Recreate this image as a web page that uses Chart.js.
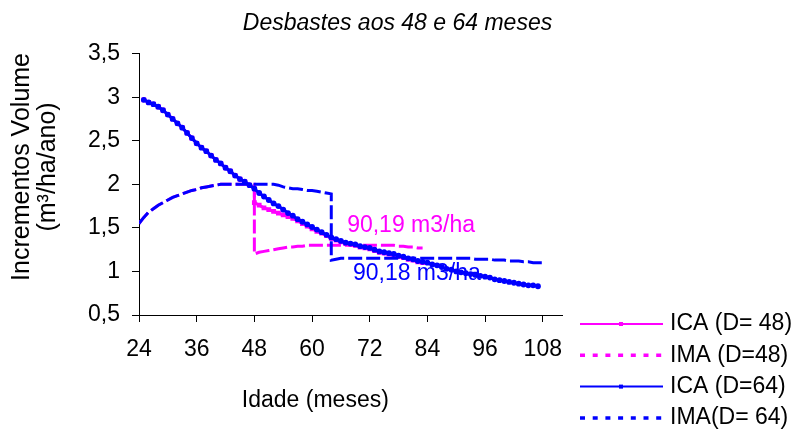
<!DOCTYPE html>
<html lang="pt">
<head>
<meta charset="utf-8">
<title>Desbastes aos 48 e 64 meses</title>
<script src="https://cdn.jsdelivr.net/npm/chart.js@4.4.1/dist/chart.umd.min.js"></script>
<style>
  html, body { margin: 0; padding: 0; background: #fff; }
  #wrap { width: 795px; height: 434px; position: relative; }
</style>
</head>
<body>
<div id="wrap"><canvas id="grafico"></canvas></div>
<script>
// Idades (meses) de cada série; o mês repetido marca o desbaste
const mesesIca48 = [25,26,27,28,29,30,31,32,33,34,35,36,37,38,39,40,41,42,43,44,45,46,47,48,
  48,49,50,51,52,53,54,55,56,57,58,59,60,61,62,63,64,65,66,67,68,69,70,71,72,73,74,75,76,77,78,79,80,81,82,83];
const ica48 = [2.97,2.94,2.92,2.89,2.85,2.80,2.75,2.70,2.65,2.59,2.53,2.47,2.42,2.38,2.33,2.28,2.24,2.19,2.15,2.10,2.06,2.03,1.99,1.95,
  1.79,1.76,1.73,1.71,1.69,1.67,1.65,1.63,1.61,1.58,1.55,1.52,1.49,1.46,1.44,1.41,1.38,1.36,1.34,1.32,1.31,1.30,1.28,1.27,1.26,1.24,1.22,1.21,1.20,1.19,1.17,1.16,1.14,1.13,1.11,1.10];

const mesesIma48 = [24,25,26,27,28,29,30,31,32,33,34,35,36,37,38,39,40,41,42,43,44,45,46,47,48,
  48,49,50,51,52,53,54,55,56,57,58,59,60,61,62,63,64,65,66,67,68,69,70,71,72,73,74,75,76,77,78,79,80,81,82,83];
const ima48 = [1.55,1.62,1.68,1.72,1.76,1.79,1.82,1.85,1.87,1.89,1.91,1.93,1.94,1.96,1.97,1.98,1.99,2.00,2.00,2.00,2.00,2.00,2.00,2.00,2.00,
  1.20,1.22,1.23,1.24,1.25,1.26,1.27,1.28,1.28,1.29,1.29,1.30,1.30,1.30,1.30,1.30,1.30,1.30,1.30,1.30,1.30,1.30,1.30,1.30,1.30,1.30,1.30,1.30,1.30,1.30,1.29,1.29,1.28,1.28,1.27,1.27];

const mesesIca64 = [25,26,27,28,29,30,31,32,33,34,35,36,37,38,39,40,41,42,43,44,45,46,47,48,49,50,51,52,53,54,
  55,56,57,58,59,60,61,62,63,64,65,66,67,68,69,70,71,72,73,74,75,76,77,78,79,80,81,82,83,84,
  85,86,87,88,89,90,91,92,93,94,95,96,97,98,99,100,101,102,103,104,105,106,107];
const ica64 = [2.97,2.94,2.92,2.89,2.85,2.80,2.75,2.70,2.65,2.59,2.53,2.47,2.42,2.38,2.33,2.28,2.24,2.19,2.15,2.10,
  2.06,2.03,1.99,1.95,1.90,1.86,1.82,1.78,1.75,1.71,1.67,1.64,1.60,1.57,1.54,1.51,1.48,1.45,1.42,1.39,
  1.37,1.35,1.33,1.32,1.31,1.29,1.28,1.27,1.25,1.23,1.22,1.21,1.20,1.18,1.17,1.15,1.14,1.12,1.11,1.10,
  1.08,1.07,1.05,1.03,1.02,1.00,0.99,0.98,0.97,0.96,0.95,0.94,0.93,0.91,0.90,0.89,0.88,0.87,0.86,0.85,
  0.84,0.84,0.83];

const mesesIma64 = [24,25,26,27,28,29,30,31,32,33,34,35,36,37,38,39,40,41,42,43,44,45,46,47,48,49,50,51,52,53,
  54,55,56,57,58,59,60,61,62,63,64,
  64,65,66,67,68,69,70,71,72,73,74,75,76,77,78,79,80,81,82,83,84,85,86,87,88,89,90,91,92,93,94,
  95,96,97,98,99,100,101,102,103,104,105,106,107,108];
const ima64 = [1.55,1.62,1.68,1.72,1.76,1.79,1.82,1.85,1.87,1.89,1.91,1.93,1.94,1.96,1.97,1.98,1.99,2.00,2.00,2.00,
  2.00,2.00,2.00,2.00,2.00,2.00,2.00,2.00,2.00,1.99,1.97,1.96,1.95,1.95,1.94,1.93,1.93,1.92,1.91,1.90,1.89,
  1.13,1.14,1.15,1.15,1.15,1.15,1.15,1.15,1.15,1.15,1.15,1.15,1.15,1.15,1.15,1.15,1.15,1.15,1.15,1.15,1.15,
  1.15,1.15,1.15,1.15,1.15,1.15,1.15,1.15,1.15,1.14,1.14,1.14,1.14,1.13,1.13,1.13,1.12,1.12,1.12,1.11,1.11,1.10,1.10,1.10];

const ticksIdade = [24, 36, 48, 60, 72, 84, 96, 108];

const magenta = '#ff00ff';
const azul = '#0000ff';
const fonte = "'Liberation Sans', Arial, sans-serif";

// volumes totais escritos junto das curvas
const notas = [
  { texto: '90,19 m3/ha', cor: magenta, x: 67.3, y: 1.52 },
  { texto: '90,18 m3/ha', cor: azul, x: 68.5, y: 0.98 }
];

const pares = (meses, valores) => meses.map((m, i) => ({ x: m, y: valores[i] }));

// legenda à direita, abaixo do eixo
const legendaLateral = {
  id: 'legendaLateral',
  beforeDatasetsDraw(chart) {
    const { ctx, scales: { x, y } } = chart;
    ctx.save();
    ctx.font = '23px ' + fonte;
    ctx.textBaseline = 'middle';
    notas.forEach(n => {
      ctx.fillStyle = n.cor;
      ctx.fillText(n.texto, x.getPixelForValue(n.x), y.getPixelForValue(n.y));
    });
    ctx.restore();
  },
  afterDraw(chart) {
    const ctx = chart.ctx;
    ctx.save();
    ctx.font = '23px ' + fonte;
    ctx.textBaseline = 'middle';
    chart.data.datasets.forEach((ds, i) => {
      const yy = 324 + i * 31.3;
      ctx.strokeStyle = ds.borderColor;
      ctx.lineWidth = ds.pointRadius ? 2 : 3.5;
      ctx.setLineDash(ds.pointRadius ? [] : [5, 7.7]);
      ctx.beginPath();
      ctx.moveTo(580, yy);
      ctx.lineTo(663, yy);
      ctx.stroke();
      if (ds.pointRadius) {
        ctx.fillStyle = ds.borderColor;
        ctx.fillRect(619, yy - 2, 4, 4);
      }
      ctx.fillStyle = '#000';
      ctx.fillText(ds.label, 670, yy);
    });
    ctx.restore();
  }
};

new Chart(document.getElementById('grafico'), {
  type: 'line',
  data: {
    datasets: [
      {
        label: 'ICA (D= 48)',
        data: pares(mesesIca48, ica48),
        borderColor: magenta,
        backgroundColor: magenta,
        borderWidth: 3,
        pointStyle: 'rect',
        pointRadius: 3.4,
        pointBorderWidth: 0,
        order: 2
      },
      {
        label: 'IMA (D=48)',
        data: pares(mesesIma48, ima48),
        borderColor: magenta,
        borderWidth: 3,
        borderDash: [14, 4],
        pointRadius: 0,
        order: 3
      },
      {
        label: 'ICA (D=64)',
        data: pares(mesesIca64, ica64),
        borderColor: azul,
        backgroundColor: azul,
        borderWidth: 3,
        pointStyle: 'circle',
        pointRadius: 2.9,
        pointBorderWidth: 0,
        order: 0
      },
      {
        label: 'IMA(D= 64)',
        data: pares(mesesIma64, ima64),
        borderColor: azul,
        borderWidth: 3,
        borderDash: [14, 4],
        pointRadius: 0,
        order: 1
      }
    ]
  },
  options: {
    responsive: true,
    maintainAspectRatio: false,
    animation: false,
    layout: { padding: 0 },
    plugins: {
      legend: { display: false },
      tooltip: { enabled: false },
      title: {
        display: true,
        text: 'Desbastes aos 48 e 64 meses',
        color: '#000',
        font: { family: fonte, size: 23, style: 'italic', weight: 'normal' },
        padding: { top: 10, bottom: 16 }
      }
    },
    scales: {
      x: {
        type: 'linear',
        min: 24,
        max: 112,
        afterBuildTicks: s => { s.ticks = ticksIdade.map(v => ({ value: v })); },
        ticks: { color: '#000', padding: 14, maxRotation: 0, font: { family: fonte, size: 23 } },
        grid: { drawOnChartArea: false, tickLength: 7, color: '#000' },
        border: { color: '#000', width: 1 },
        title: {
          display: true,
          text: 'Idade (meses)           ',
          color: '#000',
          font: { family: fonte, size: 23 },
          padding: { top: 0, bottom: 20 }
        },
        afterFit: s => { s.paddingRight = 233; s.height = 119; }
      },
      y: {
        min: 0.5,
        max: 3.5,
        ticks: {
          stepSize: 0.5,
          color: '#000',
          padding: 12,
          font: { family: fonte, size: 23 },
          callback: v => String(v).replace('.', ',')
        },
        grid: { drawOnChartArea: false, tickLength: 7, color: '#000' },
        border: { color: '#000', width: 1 },
        title: {
          display: true,
          text: ['     Incrementos Volume', '     (m\u00b3/ha/ano)'],
          color: '#000',
          font: { family: fonte, size: 25, lineHeight: 1.04 },
          padding: { top: 9, bottom: 0 }
        },
        afterFit: s => { s.width = 139; }
      }
    }
  },
  plugins: [legendaLateral]
});
</script>
</body>
</html>
